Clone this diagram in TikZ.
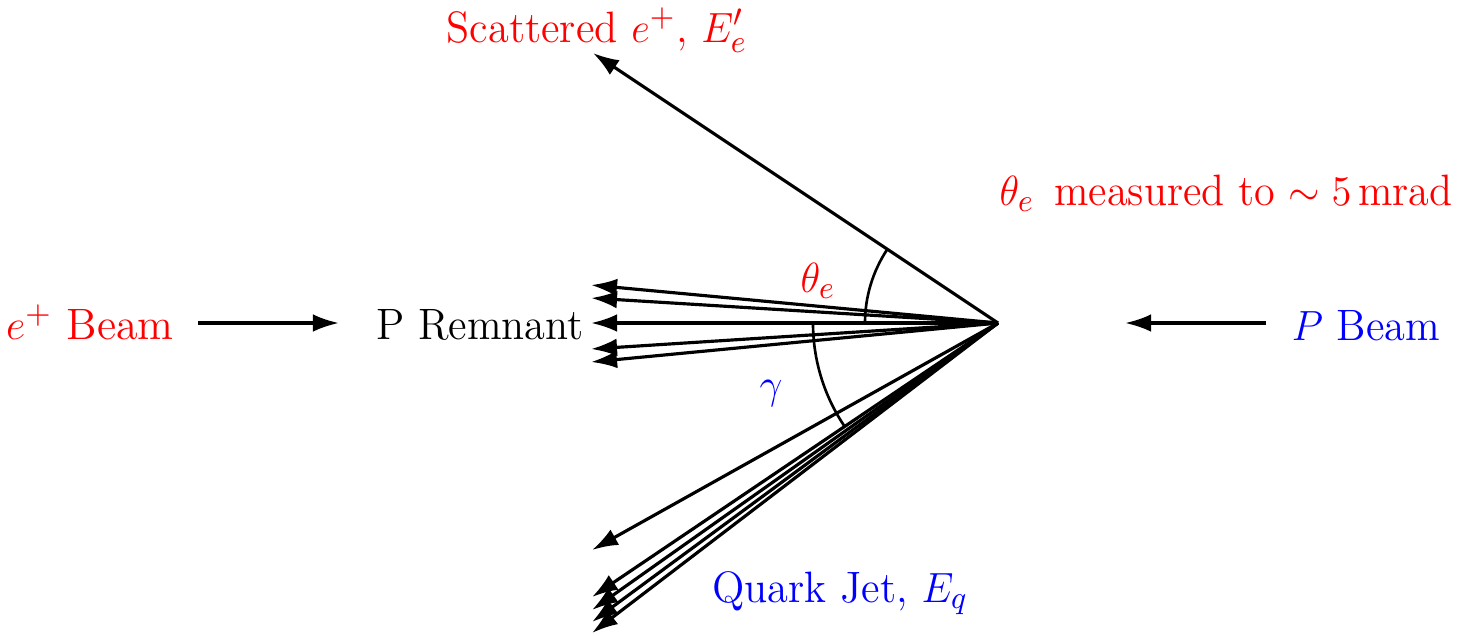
\documentclass[tikz,border=0pt]{standalone}
\usetikzlibrary{arrows.meta}
\usepackage{graphicx}
\newcommand{\txt}[2][0.965]{\scalebox{#1}[1]{#2}}
\begin{document}
\begin{tikzpicture}[x=0.01cm,y=-0.01cm,
  trk/.style={line width=0.9pt,-{Latex[length=7.4pt,width=5pt]}},
  ang/.style={line width=0.75pt},
  lbl/.style={anchor=base,inner sep=0pt,font=\fontsize{12.5}{15}\selectfont},
  redt/.style={lbl,text=red},
  bluet/.style={lbl,text=blue}]
\useasboundingbox (0,0) rectangle (1478,635);
% vertex and tips
\coordinate (v) at (998,323);
\coordinate (es) at (593,53);
\coordinate (r1) at (591,285);
\coordinate (r2) at (591,298);
\coordinate (r3) at (591,323);
\coordinate (r4) at (591,349);
\coordinate (r5) at (591,362);
\coordinate (q0) at (592,550);
\coordinate (q1) at (592,597);
\coordinate (q2) at (592,610);
\coordinate (q3) at (592,622);
\coordinate (q4) at (592,633);
\coordinate (eb1) at (198,323);
\coordinate (eb2) at (339,323);
\coordinate (pb1) at (1266,323);
\coordinate (pb2) at (1125,323);
% labels
\node[redt] (ebeam) at (90,339) {\txt[1.0]{$e^+$ Beam}};
\node[lbl] (prem) at (480,339) {\txt{P Remnant}};
\node[bluet] (pbeam) at (1366,340) {\txt{$P$ Beam}};
\node[redt] (scat) at (597,42) {\txt{Scattered $e^+$, $E'_e$}};
\node[redt] (meas) at (1226,205) {\txt[0.96]{$\theta_e$\hspace{0.15em} measured to $\sim 5\,$mrad}};
\node[bluet] (jet) at (840,602) {\txt{Quark Jet, $E_q$}};
\node[redt] (thl) at (818,292) {\txt{$\theta_e$}};
\node[bluet] (gml) at (771,398) {\txt{$\gamma$}};
% tracks
\draw[trk] (v) -- (es);
\foreach \t in {r1,r2,r3,r4,r5,q0,q1,q2,q3,q4}{\draw[trk] (v) -- (\t);}
\draw[trk] (eb1) -- (eb2);
\draw[trk] (pb1) -- (pb2);
% angle arcs
\draw[ang] (v) ++(180:133) arc[start angle=180,end angle=213.7,radius=133];
\draw[ang] (v) ++(180:185) arc[start angle=180,end angle=146,radius=185];
\end{tikzpicture}
\end{document}
